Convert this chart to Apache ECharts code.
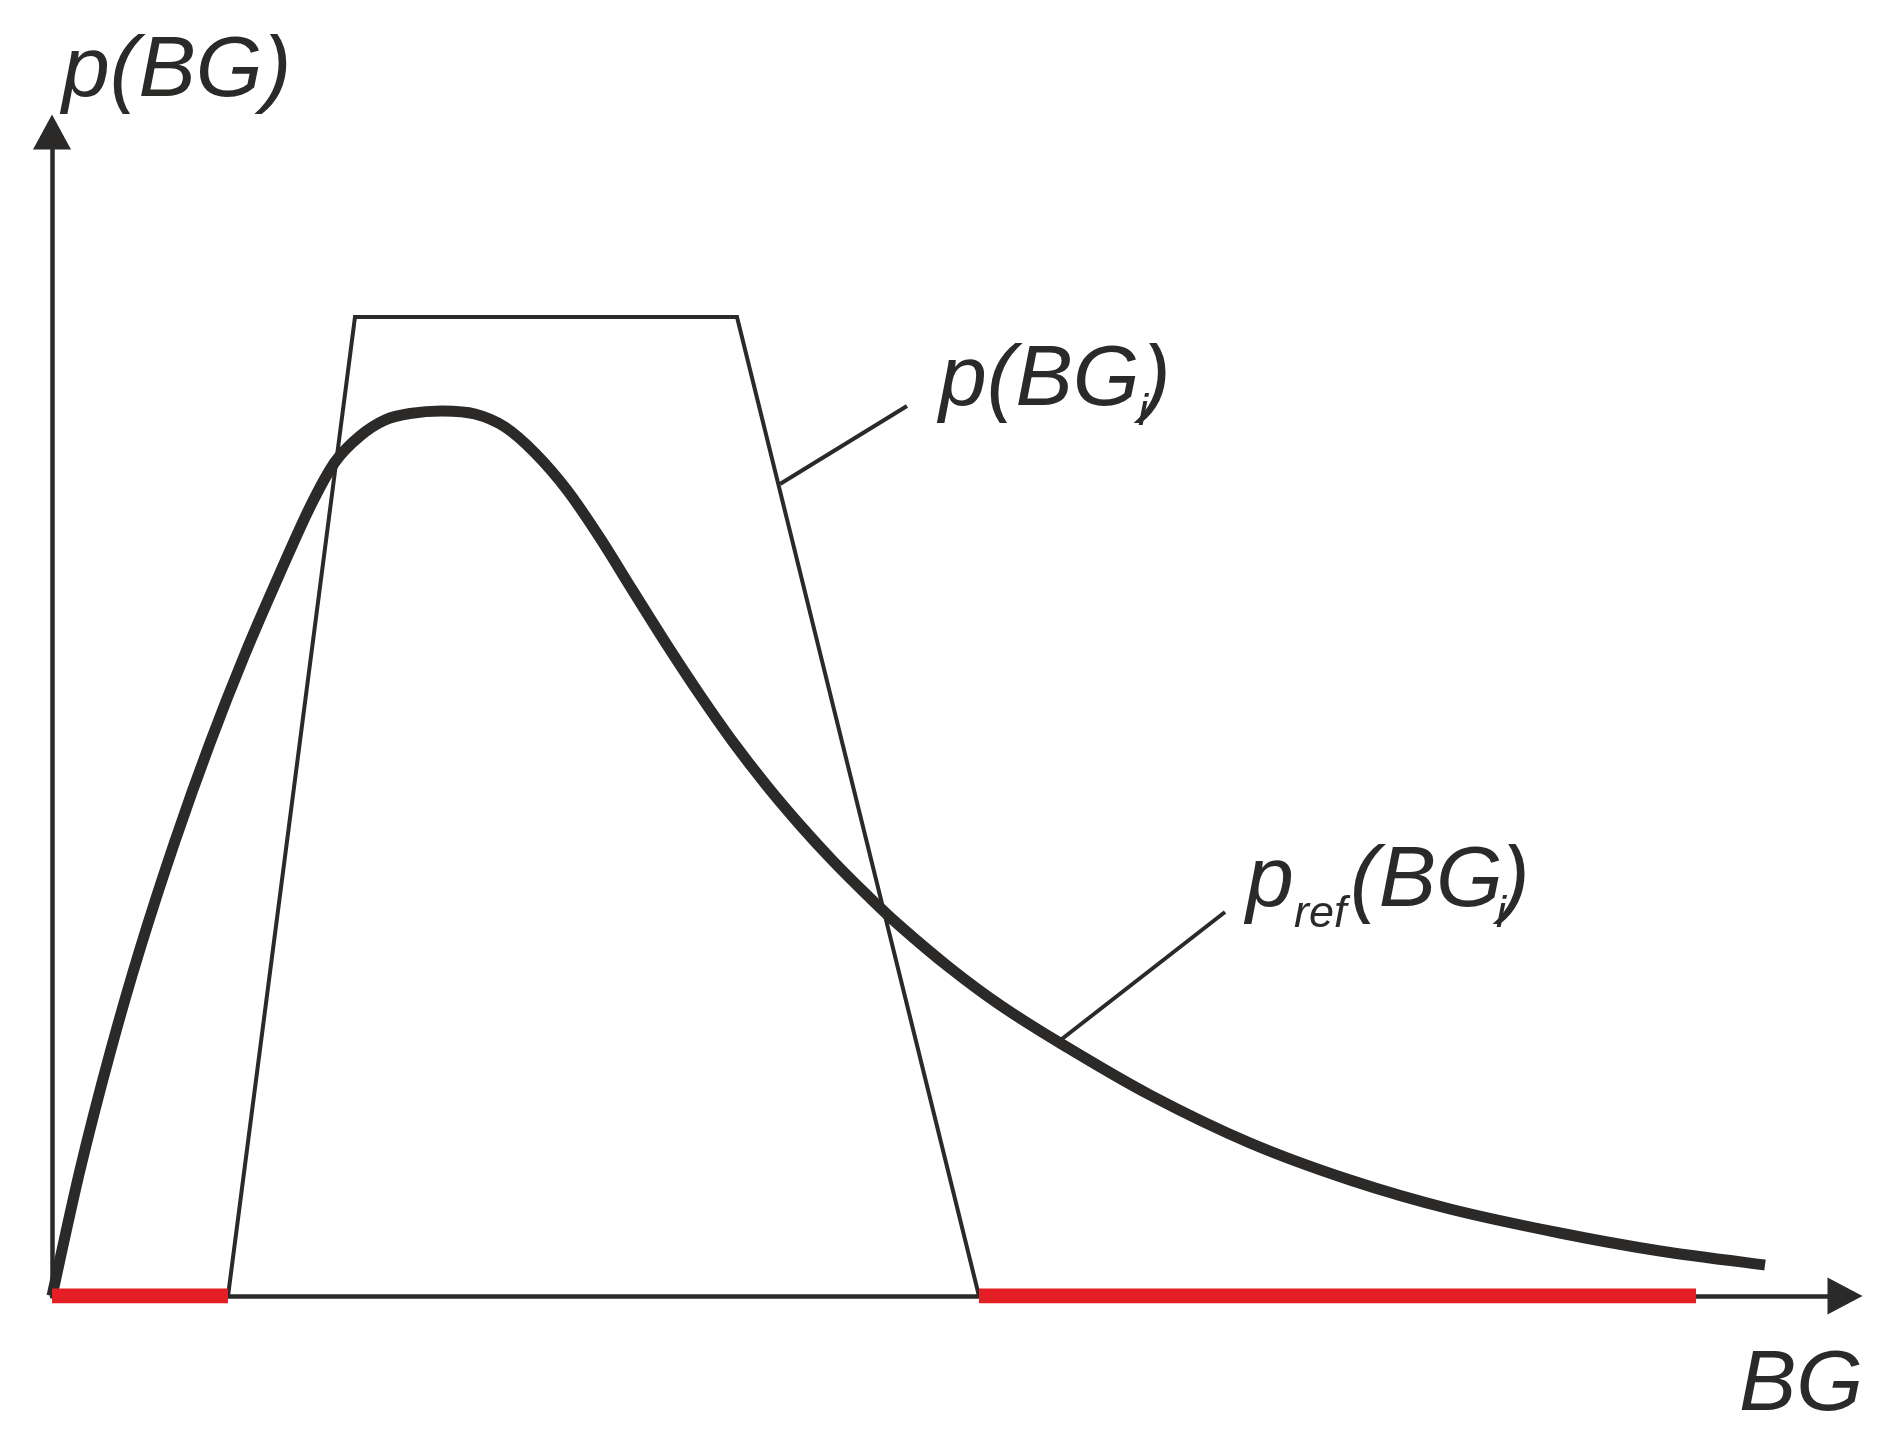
<!DOCTYPE html>
<html>
<head>
<meta charset="utf-8">
<script src="https://cdn.jsdelivr.net/npm/echarts@6/dist/echarts.min.js"></script>
<style>
html,body{margin:0;padding:0;background:#fff;}
#chart{width:1901px;height:1446px;}
</style>
</head>
<body>
<div id="chart"></div>
<script>
// reference density p_ref(BG_i): x (BG units) and y (density units)
const curveX = [0, 28, 58, 88, 123, 158, 193, 228, 258, 283, 308, 333, 358, 391, 423, 453, 483, 515, 548, 581, 615, 648, 681, 715, 748, 781, 815, 848, 898, 948, 1008, 1098, 1198, 1298, 1398, 1508, 1608, 1713];
const curveY = [0, 126, 243, 347, 455, 553, 642, 723, 789, 834, 860, 876, 882.5, 885, 882, 869, 843, 806, 758, 705, 651, 601, 554, 510, 471, 435, 401, 370, 328, 291, 253, 201, 153, 116, 87, 63, 45, 31];
// trapezoid p(BG_i)
const trapX = [176, 303, 685, 927];
const trapY = [0, 979, 979, 0];
// red ranges on the BG axis
const redLeftX = [0, 176];
const redRightX = [927, 1644];
// leader lines (label anchor -> mark)
const leader1X = [855, 728];
const leader1Y = [890, 812];
const leader2X = [1173, 1006];
const leader2Y = [384, 254];
// axis extents
const xMax = 1793;
const yMax = 1164;

const DARK = '#2b2a29';
const RED = '#e31e24';
const zip = (xs, ys) => xs.map((x, i) => [x, ys[i]]);

const chart = echarts.init(document.getElementById('chart'), null, {renderer: 'canvas'});

const FONT_BIG = 'italic 86px "Liberation Sans", Arial, sans-serif';
const FONT_SUB = 'italic 45px "Liberation Sans", Arial, sans-serif';
function txt(text, x, y, font) {
  return {type: 'text', x: x, y: y, silent: true, z: 100,
    style: {text: text, font: font, fill: DARK, align: 'left', verticalAlign: 'middle'}};
}

// smooth curve through the data points (Catmull-Rom -> cubic Bezier), positions via axes
function renderCurve(params, api) {
  if (params.dataIndex !== 0) return null;
  const n = params.dataInsideLength || curveX.length;
  const pts = [];
  for (let i = 0; i < curveX.length; i++) {
    pts.push(api.coord([api.value(0, i), api.value(1, i)]));
  }
  let d = 'M' + pts[0][0] + ' ' + pts[0][1];
  for (let i = 0; i < pts.length - 1; i++) {
    const p0 = pts[i === 0 ? 0 : i - 1];
    const p1 = pts[i];
    const p2 = pts[i + 1];
    const p3 = pts[i + 2 < pts.length ? i + 2 : pts.length - 1];
    const c1x = p1[0] + (p2[0] - p0[0]) / 6, c1y = p1[1] + (p2[1] - p0[1]) / 6;
    const c2x = p2[0] - (p3[0] - p1[0]) / 6, c2y = p2[1] - (p3[1] - p1[1]) / 6;
    d += ' C' + c1x + ' ' + c1y + ' ' + c2x + ' ' + c2y + ' ' + p2[0] + ' ' + p2[1];
  }
  return {type: 'path', shape: {pathData: d},
    style: {stroke: DARK, lineWidth: 11, fill: null, lineCap: 'butt', lineJoin: 'round'}};
}

const option = {
  animation: false,
  backgroundColor: '#ffffff',
  grid: {left: 52, right: 56, top: 132, bottom: 150, containLabel: false},
  xAxis: {
    type: 'value', min: 0, max: xMax,
    axisLine: {show: true, onZero: false, symbol: ['none', 'triangle'], symbolSize: [37, 35],
      lineStyle: {color: DARK, width: 4.5}},
    axisTick: {show: false}, axisLabel: {show: false}, splitLine: {show: false}
  },
  yAxis: {
    type: 'value', min: 0, max: yMax,
    axisLine: {show: true, onZero: false, symbol: ['none', 'triangle'], symbolSize: [38, 35],
      lineStyle: {color: DARK, width: 4.5}},
    axisTick: {show: false}, axisLabel: {show: false}, splitLine: {show: false}
  },
  series: [
    {type: 'line', data: zip(trapX, trapY), showSymbol: false, z: 2,
      lineStyle: {color: DARK, width: 4, join: 'miter'}},
    {type: 'line', data: zip(leader1X, leader1Y), showSymbol: false, z: 2,
      lineStyle: {color: DARK, width: 4}},
    {type: 'line', data: zip(leader2X, leader2Y), showSymbol: false, z: 2,
      lineStyle: {color: DARK, width: 4}},
    {type: 'custom', data: zip(curveX, curveY), renderItem: renderCurve, clip: false, z: 3,
      encode: {x: 0, y: 1}},
    {type: 'line', data: redLeftX.map(x => [x, 0]), showSymbol: false, z: 4,
      lineStyle: {color: RED, width: 15, cap: 'butt'}},
    {type: 'line', data: redRightX.map(x => [x, 0]), showSymbol: false, z: 4,
      lineStyle: {color: RED, width: 15, cap: 'butt'}}
  ],
  graphic: [
    txt('p(BG)', 62, 72, FONT_BIG),
    txt('p(BG', 939, 381, FONT_BIG),
    txt('i', 1138, 412, FONT_SUB),
    txt(')', 1142, 381, FONT_BIG),
    txt('p', 1246, 882, FONT_BIG),
    txt('ref', 1294, 914, FONT_SUB),
    txt('(BG', 1350, 882, FONT_BIG),
    txt('i', 1496, 914, FONT_SUB),
    txt(')', 1501, 882, FONT_BIG),
    txt('BG', 1739, 1386, FONT_BIG)
  ]
};
chart.setOption(option);
</script>
</body>
</html>
